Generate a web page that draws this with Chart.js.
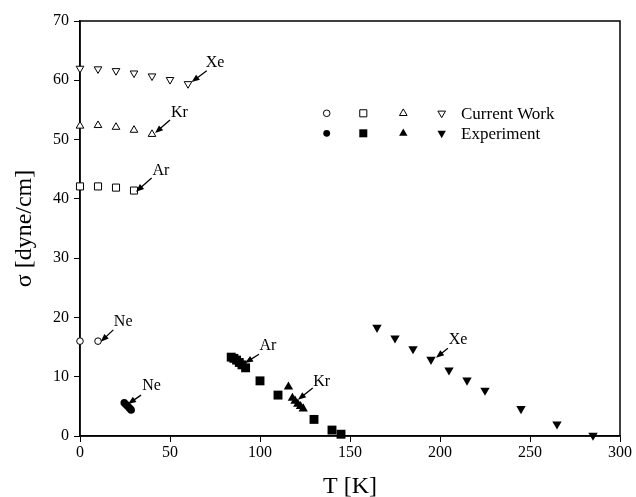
<!DOCTYPE html>
<html><head><meta charset="utf-8">
<script src="https://cdn.jsdelivr.net/npm/chart.js@4/dist/chart.umd.min.js"></script>
<style>html,body{margin:0;padding:0;background:#fff}canvas{display:block}</style>
</head><body>
<canvas id="c" width="636" height="497"></canvas>
<script>
// ---- data (T in K, sigma in dyne/cm) ----
const neCalcT = [0, 10];
const neCalcS = [16.0, 16.0];
const arCalcT = [0, 10, 20, 30];
const arCalcS = [42.1, 42.1, 41.9, 41.4];
const krCalcT = [0, 10, 20, 30, 40];
const krCalcS = [52.3, 52.4, 52.1, 51.6, 50.9];
const xeCalcT = [0, 10, 20, 30, 40, 50, 60];
const xeCalcS = [62.0, 61.9, 61.6, 61.2, 60.7, 60.1, 59.4];

const neExpT = [24.6, 25.5, 26.5, 27.5, 28.4];
const neExpS = [5.6, 5.3, 5.0, 4.7, 4.4];
const arExpT = [84, 85.5, 87, 88.5, 90, 92, 100, 110, 130, 140, 145];
const arExpS = [13.3, 13.1, 12.8, 12.4, 12.0, 11.5, 9.3, 6.9, 2.8, 1.0, 0.3];
const krExpT = [115.8, 118, 119.5, 121, 122.5, 124];
const krExpS = [8.3, 6.4, 5.9, 5.4, 5.0, 4.6];
const xeExpT = [165, 175, 185, 195, 205, 215, 225, 245, 265, 285];
const xeExpS = [18.3, 16.5, 14.7, 12.9, 11.1, 9.4, 7.7, 4.6, 2.0, 0.1];

const xTickValues = [0, 50, 100, 150, 200, 250, 300];
const yTickValues = [0, 10, 20, 30, 40, 50, 60, 70];

// annotation labels: [text, textT, textS, tailT, tailS, headT, headS]
const noteText  = ['Xe', 'Kr', 'Ar', 'Ne', 'Ne', 'Ar', 'Kr', 'Xe'];
const noteTextT = [75, 55.2, 45, 24, 39.8, 104.4, 134.3, 210];
const noteTextS = [63, 54.5, 44.7, 19.3, 8.4, 15.2, 9.2, 16.2];
const noteTailT = [70.4, 50, 39.8, 18.5, 33.9, 99.4, 129.3, 204.4];
const noteTailS = [61.6, 53.3, 43.5, 17.9, 6.9, 13.8, 8.1, 14.8];
const noteHeadT = [62, 41.7, 31.1, 11.5, 26.7, 91.7, 121.1, 197.8];
const noteHeadS = [59.7, 51.1, 41.2, 15.9, 5.4, 12.3, 6.1, 13.2];

const legendRows = ['Current Work', 'Experiment'];

const FONT = '"Liberation Serif", "DejaVu Serif", serif';

function pts(T, S) { return T.map((t, i) => ({x: t, y: S[i]})); }

const styles = {
  ne: {pointStyle: 'circle', rotation: 0},
  ar: {pointStyle: 'rect', rotation: 0},
  kr: {pointStyle: 'triangle', rotation: 0},
  xe: {pointStyle: 'triangle', rotation: 180}
};
const calcRadius = {ne: 3.3, ar: 5, kr: 4.4, xe: 4.4};
const expRadius = {ne: 3.8, ar: 6.3, kr: 5.4, xe: 5.4};

function ds(key, T, S, filled) {
  return {
    label: key + (filled ? ' exp' : ' calc'),
    data: pts(T, S),
    showLine: false,
    clip: false,
    pointStyle: styles[key].pointStyle,
    pointRotation: styles[key].rotation,
    pointRadius: filled ? expRadius[key] : calcRadius[key],
    pointHoverRadius: filled ? expRadius[key] : calcRadius[key],
    pointBackgroundColor: filled ? '#000' : '#fff',
    pointBorderColor: '#000',
    pointBorderWidth: filled ? 0 : 1
  };
}

const overlay = {
  id: 'overlay',
  beforeDatasetsDraw(chart) {
    const ctx = chart.ctx, a = chart.chartArea;
    ctx.save();
    ctx.strokeStyle = '#000';
    ctx.lineWidth = 1.5;
    ctx.strokeRect(a.left, a.top, a.right - a.left, a.bottom - a.top);
    ctx.restore();
  },
  afterDatasetsDraw(chart) {
    const ctx = chart.ctx, xs = chart.scales.x, ys = chart.scales.y, a = chart.chartArea;
    ctx.save();
    // annotations
    ctx.fillStyle = '#000';
    ctx.strokeStyle = '#000';
    ctx.font = '16px ' + FONT;
    ctx.textAlign = 'center';
    ctx.textBaseline = 'middle';
    for (let i = 0; i < noteText.length; i++) {
      ctx.fillText(noteText[i], xs.getPixelForValue(noteTextT[i]), ys.getPixelForValue(noteTextS[i]));
      const x1 = xs.getPixelForValue(noteTailT[i]), y1 = ys.getPixelForValue(noteTailS[i]);
      const x2 = xs.getPixelForValue(noteHeadT[i]), y2 = ys.getPixelForValue(noteHeadS[i]);
      const ang = Math.atan2(y2 - y1, x2 - x1);
      const L = 8, W = 3.2;
      ctx.lineWidth = 1.3;
      ctx.beginPath();
      ctx.moveTo(x1, y1);
      ctx.lineTo(x2 - Math.cos(ang) * L * 0.8, y2 - Math.sin(ang) * L * 0.8);
      ctx.stroke();
      ctx.beginPath();
      ctx.moveTo(x2, y2);
      ctx.lineTo(x2 - Math.cos(ang) * L - Math.sin(ang) * W, y2 - Math.sin(ang) * L + Math.cos(ang) * W);
      ctx.lineTo(x2 - Math.cos(ang) * L + Math.sin(ang) * W, y2 - Math.sin(ang) * L - Math.cos(ang) * W);
      ctx.closePath();
      ctx.fill();
    }
    // legend
    const keys = ['ne', 'ar', 'kr', 'xe'];
    const colX = [246.7, 283.3, 323.3, 361.7];
    const rowY = [92.3, 112.3];
    for (let r = 0; r < 2; r++) {
      for (let k = 0; k < 4; k++) {
        const key = keys[k];
        ctx.fillStyle = r === 0 ? '#fff' : '#000';
        ctx.strokeStyle = '#000';
        ctx.lineWidth = 1;
        Chart.helpers.drawPoint(ctx, {
          pointStyle: styles[key].pointStyle,
          rotation: styles[key].rotation,
          radius: r === 0 ? calcRadius[key] : expRadius[key] * 0.9,
          borderWidth: r === 0 ? 1 : 0
        }, a.left + colX[k], a.top + rowY[r]);
      }
      ctx.fillStyle = '#000';
      ctx.font = '17px ' + FONT;
      ctx.textAlign = 'left';
      ctx.textBaseline = 'middle';
      ctx.fillText(legendRows[r], a.left + 381, a.top + rowY[r] + 1);
    }
    ctx.restore();
  }
};

new Chart(document.getElementById('c'), {
  type: 'scatter',
  data: {
    datasets: [
      ds('ne', neCalcT, neCalcS, false),
      ds('ar', arCalcT, arCalcS, false),
      ds('kr', krCalcT, krCalcS, false),
      ds('xe', xeCalcT, xeCalcS, false),
      ds('ne', neExpT, neExpS, true),
      ds('ar', arExpT, arExpS, true),
      ds('kr', krExpT, krExpS, true),
      ds('xe', xeExpT, xeExpS, true)
    ]
  },
  options: {
    responsive: false,
    devicePixelRatio: 1,
    animation: false,
    layout: {padding: {left: 0, right: 16, top: 21, bottom: 0}},
    plugins: {legend: {display: false}, tooltip: {enabled: false}},
    scales: {
      x: {
        type: 'linear', min: 0, max: 300,
        afterBuildTicks: s => { s.ticks = xTickValues.map(v => ({value: v})); },
        afterFit: s => { s.height = 61; },
        ticks: {color: '#000', font: {family: FONT, size: 16}, padding: 1, maxRotation: 0},
        grid: {drawOnChartArea: false, drawTicks: true, tickLength: 6, color: '#000', tickWidth: 1},
        border: {color: '#000', width: 1.5},
        title: {display: true, text: 'T [K]', color: '#000', font: {family: FONT, size: 24}, padding: {top: 0, bottom: -4}}
      },
      y: {
        type: 'linear', min: 0, max: 70,
        afterBuildTicks: s => { s.ticks = yTickValues.map(v => ({value: v})); },
        afterFit: s => { s.width = 80; },
        ticks: {color: '#000', font: {family: FONT, size: 16}, padding: 5},
        grid: {drawOnChartArea: false, drawTicks: true, tickLength: 6, color: '#000', tickWidth: 1},
        border: {color: '#000', width: 1.5},
        title: {display: true, text: 'σ [dyne/cm]', color: '#000', font: {family: FONT, size: 24}, padding: {top: 10, bottom: 0}}
      }
    }
  },
  plugins: [overlay]
});
</script>
</body></html>
